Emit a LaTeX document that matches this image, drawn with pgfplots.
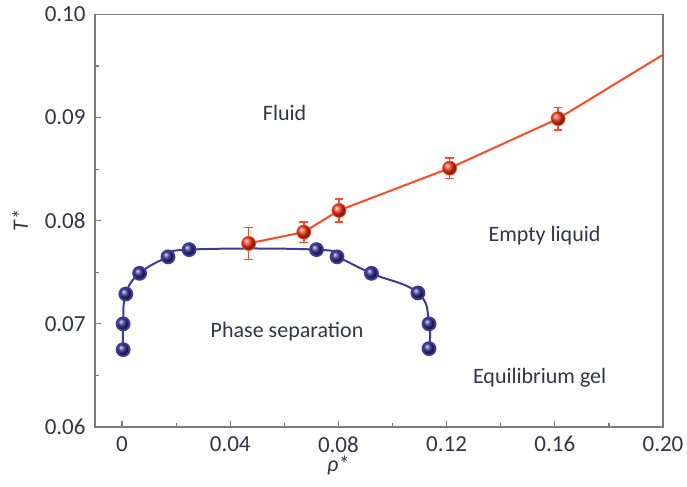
\documentclass[border=0pt]{standalone}
\usepackage{pgfplots}
\pgfplotsset{compat=1.18}
\usepackage{fontspec}
\setmainfont{Carlito}

\definecolor{axisgray}{HTML}{7A7A7A}
\definecolor{labelgray}{HTML}{33334A}
\definecolor{navy}{HTML}{2E2B88}
\definecolor{navyline}{HTML}{3C3A96}
\definecolor{redball}{HTML}{F5381A}
\definecolor{redline}{HTML}{FF4A28}

% coexistence curve (gas-liquid binodal)
\pgfplotstableread{
x       y
0.0004  0.0675
0.0004  0.0700
0.0014  0.0729
0.0065  0.0749
0.0170  0.0765
0.0248  0.0772
0.0719  0.0772
0.0795  0.0765
0.0922  0.0749
0.1094  0.0730
0.1135  0.0700
0.1135  0.0676
}\binodal

% percolation / empty-liquid boundary with error bars
\pgfplotstableread{
x       y       err
0.0468  0.0778  0.00155
0.0672  0.0789  0.0010
0.0802  0.0810  0.0011
0.1211  0.0851  0.0010
0.1612  0.0899  0.0011
}\boundary

\pgfplotstableread{
x       y
0.0468  0.0778
0.0672  0.0789
0.0802  0.0810
0.1211  0.0851
0.1612  0.0899
0.2000  0.0961
}\boundaryline

\begin{document}
\begin{tikzpicture}
\begin{axis}[
  at={(47.5pt,30pt)}, anchor=south west,
  scale only axis, width=284pt, height=206.25pt,
  xmin=-0.01, xmax=0.20, ymin=0.06, ymax=0.10,
  axis line style={axisgray, line width=0.9pt},
  xtick={0,0.04,0.08,0.12,0.16,0.20},
  xticklabels={0,0.04,0.08,0.12,0.16,0.20},
  minor xtick={0.02,0.06,0.10,0.14,0.18},
  ytick={0.06,0.07,0.08,0.09,0.10},
  yticklabels={0.06,0.07,0.08,0.09,0.10},
  minor ytick={0.065,0.075,0.085,0.095},
  tick align=inside, tick pos=left,
  major tick length=3pt, minor tick length=2pt,
  tick style={axisgray, line width=0.6pt},
  ticklabel style={font=\fontsize{11.5}{13}\selectfont, text=labelgray},
  yticklabel style={xshift=-1.2pt},
  xticklabel style={yshift=-1.2pt},
  xlabel={\textit{ρ*}},
  ylabel={\textit{T*}},
  label style={font=\fontsize{11}{13}\selectfont, text=labelgray},
  xlabel style={at={(axis description cs:0.428,-0.093)}, anchor=center},
  ylabel style={at={(axis description cs:-0.132,0.5)}, anchor=center},
]
\addplot[navyline, line width=1pt, smooth, tension=0.75,
  mark=ball, mark size=3.2pt, mark options={ball color=navy}]
  table[x=x, y=y] {\binodal};

\addplot[redline, line width=1pt, no marks] table[x=x, y=y] {\boundaryline};
\addplot[redline, only marks, mark=ball, mark size=3.5pt,
  mark options={ball color=redball},
  error bars/.cd, y dir=both, y explicit,
  error bar style={redline, line width=0.8pt},
  error mark options={redline, line width=0.8pt, mark size=2.2pt, rotate=90}]
  table[x=x, y=y, y error=err] {\boundary};

\begin{scope}[every node/.style={font=\fontsize{11}{13}\selectfont, text=labelgray}]
\node at (axis cs:0.0601,0.0905) {Fluid};
\node at (axis cs:0.1562,0.0786) {Empty liquid};
\node at (axis cs:0.0610,0.0692) {Phase separation};
\node at (axis cs:0.1544,0.0648) {Equilibrium gel};
\end{scope}
\end{axis}
\pgfresetboundingbox
\path[use as bounding box] (0,0) rectangle (343.5pt,243.5pt);
\end{tikzpicture}
\end{document}
